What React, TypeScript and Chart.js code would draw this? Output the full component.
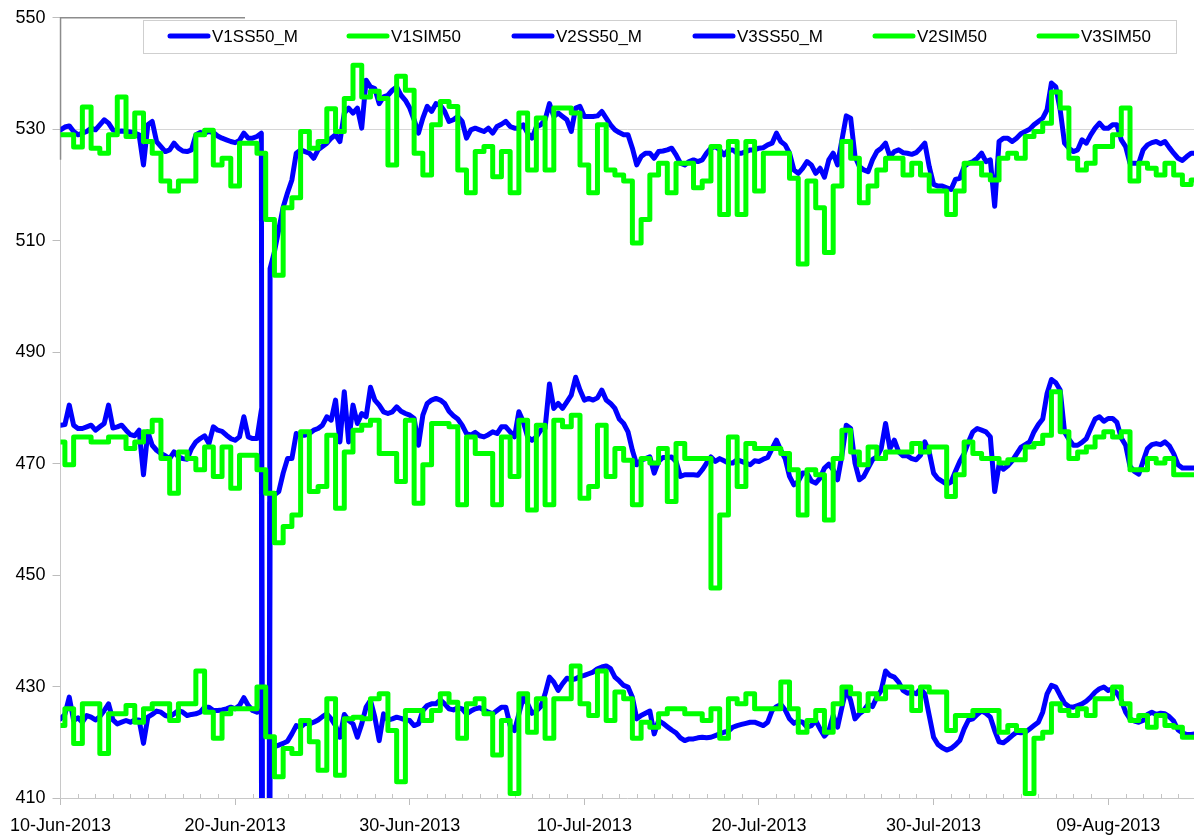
import React, { useEffect, useRef } from 'react';
import { Chart, registerables } from 'chart.js';

Chart.register(...registerables);

// ---------- data ----------
const seriesNames = ['V1SS50_M', 'V1SIM50', 'V2SS50_M', 'V3SS50_M', 'V2SIM50', 'V3SIM50'];
const xTickDays = [0, 10, 20, 30, 40, 50, 60];
const xTickLabels = ['10-Jun-2013', '20-Jun-2013', '30-Jun-2013', '10-Jul-2013', '20-Jul-2013', '30-Jul-2013', '09-Aug-2013'];
const yTickValues = [410, 430, 450, 470, 490, 510, 530, 550];
const measuredStepDays = 0.25; // SS50_M sampled every 6 h
const simStepDays = 0.5; // SIM50 sampled every 12 h

const v1SS = [
  529.9, 530.4, 530.6, 529.6, 529.0, 529.3, 529.6, 530.2,
  529.9, 530.8, 531.7, 531.1, 529.9, 529.6, 529.7, 529.6,
  529.5, 529.3, 529.0, 523.6, 530.8, 531.4, 527.8, 526.9,
  526.0, 526.3, 527.5, 526.6, 526.1, 526.0, 526.3, 529.0,
  529.4, 529.3, 529.6, 529.4, 528.8, 528.4, 528.1, 527.8,
  527.6, 528.0, 529.3, 528.4, 528.4, 528.7, 529.3, 0,
  505, 508, 512, 516, 518.6, 520.9, 525.7, 526.3,
  526.0, 525.7, 524.8, 526.3, 526.9, 527.5, 528.4, 529.0,
  527.8, 532.9, 533.8, 532.9, 533.8, 530.2, 538.8, 537.6,
  537.3, 534.6, 535.8, 536.1, 537.0, 537.6, 536.1, 535.2,
  533.8, 531.7, 529.3, 532.0, 534.1, 533.2, 534.6, 534.3,
  533.2, 531.4, 531.7, 532.3, 531.4, 528.4, 529.9, 530.2,
  529.9, 529.6, 530.2, 529.3, 530.5, 530.9, 531.4, 530.5,
  530.2, 530.2, 530.8, 529.3, 528.4, 530.4, 530.8, 531.7,
  534.6, 532.3, 532.9, 532.3, 531.7, 529.6, 533.8, 534.1,
  532.3, 532.3, 532.3, 532.4, 533.2, 532.0, 530.8, 529.9,
  529.4, 529.0, 529.0, 526.6, 523.6, 525.1, 525.7, 525.7,
  524.8, 526.0, 526.1, 526.3, 526.6, 525.4, 523.9, 523.6,
  524.2, 524.5, 524.2, 524.5, 525.7, 526.6, 526.9, 526.3,
  525.4, 526.3, 526.3, 525.7, 525.7, 526.0, 526.3, 526.3,
  526.6, 526.7, 527.2, 527.5, 529.3, 527.8, 527.2, 525.7,
  522.7, 522.1, 523.0, 524.2, 523.6, 522.1, 523.0, 521.4,
  524.5, 525.7, 523.6, 528.1, 532.4, 532.0, 525.1, 523.3,
  522.7, 522.4, 524.5, 526.0, 526.6, 527.5, 525.1, 526.0,
  526.3, 525.8, 525.7, 525.5, 525.8, 526.6, 527.5, 523.3,
  520.1, 519.8, 519.8, 519.5, 519.2, 521.0, 521.2, 523.3,
  523.9, 524.2, 524.8, 525.7, 524.2, 524.5, 516.2, 527.8,
  528.4, 528.4, 527.8, 528.4, 529.2, 529.6, 530.0, 530.8,
  531.4, 532.0, 533.5, 538.3, 537.6, 533.5, 527.5, 526.6,
  526.0, 526.3, 528.1, 527.5, 529.0, 530.2, 531.1, 530.2,
  530.2, 530.8, 530.8, 528.1, 526.9, 523.9, 523.9, 523.9,
  526.3, 527.2, 527.6, 527.8, 527.4, 527.8, 526.7, 525.7,
  524.8, 524.4, 525.1, 525.7, 525.7,
];

const v2SS = [
  476.9, 477.0, 480.5, 476.9, 476.3, 476.3, 476.6, 476.9,
  476.0, 476.6, 477.2, 480.5, 476.4, 476.6, 476.9, 476.0,
  475.2, 475.0, 476.0, 468.0, 475.7, 473.3, 472.4, 471.8,
  471.4, 470.9, 472.1, 471.2, 470.9, 470.8, 472.7, 473.9,
  474.5, 475.0, 473.6, 476.6, 476.0, 475.8, 475.1, 474.5,
  474.2, 474.8, 478.4, 474.8, 474.5, 474.5, 479.6, 0,
  463.0, 464.4, 465.0, 468.3, 470.9, 470.9, 475.4, 475.1,
  475.1, 475.4, 476.0, 476.3, 476.9, 478.4, 477.8, 481.4,
  473.9, 482.9, 473.9, 480.5, 477.2, 479.0, 478.4, 483.7,
  481.4, 480.5, 479.3, 479.0, 479.3, 480.2, 479.4, 479.0,
  478.7, 478.1, 473.3, 478.7, 480.8, 481.4, 481.7, 481.4,
  480.8, 479.4, 478.6, 478.0, 476.9, 475.4, 475.1, 475.6,
  475.0, 474.8, 475.2, 475.7, 475.4, 476.6, 476.6, 475.7,
  474.8, 479.3, 477.5, 474.8, 474.2, 474.8, 476.0, 476.3,
  484.3, 479.9, 480.8, 479.9, 481.1, 482.3, 485.5, 483.2,
  481.4, 481.7, 481.4, 481.8, 483.2, 481.4, 480.8, 479.9,
  478.0, 477.2, 475.7, 472.4, 469.8, 470.6, 470.9, 471.2,
  468.3, 470.4, 471.1, 471.1, 471.2, 470.4, 467.7, 468.0,
  468.0, 468.0, 467.9, 468.9, 470.1, 471.2, 470.4, 470.9,
  470.5, 470.1, 470.1, 470.7, 470.4, 470.1, 469.8, 470.5,
  470.4, 470.8, 471.1, 472.7, 474.2, 472.4, 470.9, 467.7,
  466.2, 466.8, 468.3, 468.3, 466.9, 466.5, 467.4, 469.2,
  469.9, 468.9, 467.1, 471.5, 476.9, 476.3, 470.1, 467.1,
  467.7, 469.2, 470.7, 471.2, 472.7, 477.2, 472.7, 474.2,
  472.1, 471.4, 471.4, 470.9, 470.7, 471.5, 473.9, 472.1,
  468.3, 467.3, 466.8, 466.3, 466.7, 468.6, 470.4, 471.8,
  473.9, 475.7, 476.3, 476.0, 475.7, 474.8, 465.0, 469.8,
  469.0, 469.6, 470.5, 471.7, 472.9, 473.4, 473.9, 475.7,
  477.0, 478.0, 482.6, 485.1, 484.5, 483.2, 475.7, 474.4,
  473.3, 473.3, 473.8, 474.5, 476.3, 478.0, 478.4, 477.6,
  478.1, 478.1, 477.4, 474.6, 473.3, 469.5, 468.6, 468.1,
  470.4, 472.7, 473.4, 473.6, 473.4, 473.9, 473.2, 471.8,
  469.8, 469.2, 469.2, 469.2, 469.2,
];

const v3SS = [
  424.2, 425.0, 428.1, 423.9, 424.4, 423.6, 424.8, 424.5,
  424.0, 424.6, 425.7, 426.9, 424.0, 423.3, 423.6, 423.9,
  423.6, 424.0, 424.0, 419.8, 424.5, 425.0, 425.6, 425.4,
  424.8, 424.6, 425.1, 425.7, 425.4, 424.8, 425.0, 425.1,
  425.4, 426.3, 426.3, 425.7, 425.7, 425.8, 426.0, 426.3,
  426.0, 426.6, 428.0, 426.6, 425.7, 425.4, 425.7, 0,
  418.9, 419.2, 419.5, 419.8, 420.2, 421.5, 423.0, 422.7,
  423.4, 423.3, 423.6, 424.0, 424.6, 425.1, 424.2, 423.0,
  420.9, 425.0, 423.9, 423.3, 420.9, 423.3, 426.3, 427.5,
  424.5, 420.3, 425.1, 424.0, 424.2, 424.5, 424.3, 424.0,
  423.9, 423.0, 423.3, 425.7, 426.6, 426.9, 426.9, 427.6,
  426.9, 426.0, 425.8, 426.2, 426.0, 425.1, 425.6, 426.0,
  426.2, 425.8, 425.4, 425.1, 425.7, 426.3, 426.3, 423.0,
  422.1, 425.1, 428.0, 426.9, 425.2, 425.6, 426.4, 428.7,
  431.7, 430.8, 429.3, 430.5, 431.5, 431.2, 431.4, 431.8,
  432.0, 432.3, 432.6, 433.2, 433.5, 433.7, 433.2, 431.7,
  431.0, 430.2, 429.9, 428.1, 424.2, 424.8, 425.2, 425.6,
  421.5, 423.9, 423.4, 422.8, 422.2, 421.7, 420.8, 420.3,
  420.6, 420.6, 420.8, 420.9, 420.8, 420.9, 421.2, 421.5,
  421.8, 422.0, 422.7, 423.0, 423.2, 423.4, 423.6, 423.6,
  423.3, 423.0, 423.6, 425.7, 426.4, 426.8, 425.8, 424.2,
  423.4, 423.8, 423.6, 422.7, 423.0, 423.9, 422.4, 421.1,
  422.0, 424.8, 422.7, 426.3, 429.6, 427.5, 424.2, 425.1,
  425.7, 426.8, 426.4, 428.1, 429.3, 432.8, 432.0, 431.7,
  430.8, 429.3, 428.8, 429.0, 428.7, 429.6, 428.7, 424.8,
  420.9, 419.6, 419.0, 418.6, 418.9, 419.5, 420.3, 422.4,
  424.0, 424.2, 425.0, 425.6, 425.2, 424.5, 422.1, 420.1,
  419.9, 420.5, 421.2, 421.8, 421.7, 421.8, 422.4, 423.0,
  423.6, 425.4, 428.7, 430.2, 429.9, 428.4, 427.0, 426.4,
  426.3, 426.6, 426.9, 427.4, 428.1, 429.0, 429.6, 429.9,
  429.3, 429.6, 428.8, 427.5, 425.4, 424.2, 423.8, 423.6,
  423.9, 425.0, 425.4, 425.0, 425.2, 425.1, 424.6, 423.8,
  422.2, 421.7, 421.4, 421.4, 421.5,
];

const v1SIM = [
  529, 529, 526.8, 534, 526.6, 525.7, 529, 535.8, 528.7, 532.9,
  527.8, 525.7, 520.7, 518.9, 520.7, 520.7, 529, 529.8, 523.6, 524.8,
  519.8, 527.5, 527.5, 525.7, 513.8, 503.8, 515.9, 517.7, 529.6, 526.6,
  527.8, 533.7, 529.6, 535.5, 541.5, 535.8, 536.8, 535.5, 523.6, 539.5,
  537, 525.7, 521.8, 530.8, 535, 534.1, 522.7, 518.6, 526, 526.9,
  521.5, 526, 518.6, 532.9, 522.7, 532, 522.7, 533.8, 533.8, 532.9,
  523.6, 518.6, 530.8, 522.7, 521.8, 520.7, 509.6, 513.8, 521.8, 523.9,
  518.6, 523.9, 523.9, 519.5, 520.7, 526.9, 514.7, 527.8, 514.7, 527.8,
  518.9, 525.7, 525.7, 525.7, 521.2, 505.8, 520.7, 515.9, 507.9, 519.8,
  527.8, 524.8, 516.8, 519.8, 522.7, 524.8, 524.8, 521.8, 523.9, 521.8,
  518.9, 518.9, 514.7, 518.9, 523.9, 523.9, 521.8, 520.9, 524.8, 525.7,
  524.8, 528.7, 529.6, 531.1, 536.7, 533.8, 524.8, 522.7, 523.9, 526.9,
  526.9, 529, 533.8, 520.7, 523.9, 523, 521.8, 523.9, 521.8, 520.1,
  520.9,
];

const v2SIM = [
  473.9, 469.8, 474.8, 474.8, 473.9, 473.9, 474.8, 474.8, 472.7, 473.9,
  475.7, 477.8, 470.9, 464.7, 472.1, 470.9, 468.9, 473.0, 467.7, 473.0,
  465.6, 471.5, 471.5, 468.9, 464.7, 455.8, 458.7, 460.8, 475.7, 465.0,
  465.9, 475.1, 462.0, 472.1, 476.0, 476.9, 477.8, 471.8, 471.8, 466.8,
  477.8, 462.9, 469.8, 477.2, 477.2, 476.6, 462.6, 474.8, 471.8, 471.8,
  462.6, 474.8, 467.7, 477.8, 461.7, 476.9, 462.6, 477.8, 476.6, 478.7,
  463.8, 465.9, 476.9, 467.7, 472.7, 470.6, 462.6, 470.9, 470.1, 472.7,
  463.2, 473.6, 470.9, 470.9, 470.9, 447.7, 460.8, 474.8, 465.9, 473.6,
  472.7, 472.7, 472.7, 471.8, 468.9, 460.8, 468.9, 468.0, 459.9, 470.9,
  476.0, 472.1, 469.8, 473.0, 470.9, 472.1, 472.1, 472.1, 473.6, 472.1,
  473.0, 473.0, 464.1, 468.0, 473.9, 471.8, 470.9, 470.9, 470.1, 470.7,
  470.7, 473.0, 473.6, 475.1, 482.9, 475.7, 470.9, 472.1, 473.0, 474.8,
  475.7, 474.8, 475.7, 468.9, 468.9, 470.9, 470.1, 470.9, 468.0, 468.0,
  468.0,
];

const v3SIM = [
  423.0, 426.0, 419.8, 426.9, 426.9, 418.0, 425.1, 425.1, 426.6, 423.6,
  426.0, 426.9, 426.9, 423.9, 426.9, 426.9, 432.8, 425.4, 420.7, 425.1,
  426.0, 426.0, 426.0, 429.9, 421.0, 413.8, 418.9, 418.0, 423.9, 420.1,
  415.0, 427.8, 414.1, 424.2, 424.5, 424.2, 427.8, 428.7, 422.1, 412.9,
  425.7, 425.7, 423.9, 425.7, 428.7, 427.2, 420.7, 426.9, 427.8, 425.1,
  417.7, 423.9, 410.8, 428.7, 421.8, 427.8, 420.7, 427.8, 427.8, 433.7,
  426.9, 424.8, 432.8, 423.9, 429.0, 427.8, 420.7, 423.6, 422.7, 425.1,
  426.0, 426.0, 425.1, 425.1, 423.9, 426.0, 420.7, 427.8, 426.9, 428.7,
  426.0, 426.0, 426.0, 430.8, 426.0, 421.8, 423.9, 425.7, 421.8, 426.9,
  429.9, 428.7, 425.7, 428.7, 427.8, 429.9, 429.9, 429.9, 425.7, 429.9,
  429.0, 429.0, 422.1, 424.8, 424.8, 425.7, 425.7, 425.7, 421.8, 423.0,
  422.1, 410.8, 420.7, 421.8, 426.9, 425.7, 424.8, 426.0, 424.8, 427.8,
  427.8, 429.9, 426.9, 423.9, 424.8, 422.7, 424.8, 423.0, 422.7, 420.9,
  420.9,
];

// ---------- styling / layout (not data) ----------
const BLUE = '#0000ff';
const GREEN = '#00ff00';
const FONT = '"Liberation Sans", Arial, sans-serif';
const X_MAX = (1194 - 58) / 17.5;
const legendItemX = [168, 347, 512, 693, 873, 1037];

const toPoints = (values: number[], step: number) =>
  values.map((y, i) => ({ x: i * step, y }));

const decorPlugin = {
  id: 'decor',
  beforeDatasetsDraw(chart: any) {
    const { ctx, chartArea, scales } = chart;
    const xs = scales.x;
    ctx.save();
    // daily minor ticks (inside)
    ctx.strokeStyle = '#c4c4c4';
    ctx.lineWidth = 1;
    ctx.beginPath();
    for (let d = 1; d < X_MAX; d++) {
      if (xTickDays.includes(d)) continue;
      const px = Math.round(xs.getPixelForValue(d)) + 0.5;
      ctx.moveTo(px, chartArea.bottom);
      ctx.lineTo(px, chartArea.bottom - 4);
    }
    ctx.stroke();
    // darker frame fragment at top-left
    ctx.strokeStyle = '#8c8c8c';
    ctx.lineWidth = 1.5;
    ctx.beginPath();
    ctx.moveTo(chartArea.left, chartArea.top + 142);
    ctx.lineTo(chartArea.left, chartArea.top);
    ctx.lineTo(245, chartArea.top);
    ctx.stroke();
    ctx.restore();
  },
  afterDraw(chart: any) {
    const { ctx } = chart;
    ctx.save();
    ctx.fillStyle = '#ffffff';
    ctx.fillRect(143.5, 20.5, 1033, 33);
    ctx.strokeStyle = '#cfcfcf';
    ctx.lineWidth = 1;
    ctx.strokeRect(143.5, 20.5, 1033, 33);
    const cy = 36;
    chart.data.datasets.forEach((ds: any, i: number) => {
      const x0 = legendItemX[i];
      ctx.strokeStyle = ds.borderColor;
      ctx.lineWidth = 5;
      ctx.lineCap = 'round';
      ctx.beginPath();
      ctx.moveTo(x0 + 2, cy);
      ctx.lineTo(x0 + 40, cy);
      ctx.stroke();
      ctx.fillStyle = '#000000';
      ctx.font = `17px ${FONT}`;
      ctx.textBaseline = 'middle';
      ctx.textAlign = 'left';
      ctx.fillText(ds.label, x0 + 44, cy + 1);
    });
    ctx.restore();
  },
};

export default function App() {
  const canvasRef = useRef<HTMLCanvasElement | null>(null);

  useEffect(() => {
    document.body.style.margin = '0';
    const canvas = canvasRef.current;
    if (!canvas) return;

    const lineBase = {
      pointRadius: 0,
      borderWidth: 5,
      borderJoinStyle: 'round' as const,
      borderCapStyle: 'round' as const,
      tension: 0,
      fill: false,
    };

    const chart = new Chart(canvas, {
      type: 'line',
      data: {
        datasets: [
          { ...lineBase, label: seriesNames[0], data: toPoints(v1SS, measuredStepDays), borderColor: BLUE, order: 1 },
          { ...lineBase, label: seriesNames[1], data: toPoints(v1SIM, simStepDays), borderColor: GREEN, stepped: 'middle', order: 0 },
          { ...lineBase, label: seriesNames[2], data: toPoints(v2SS, measuredStepDays), borderColor: BLUE, order: 1 },
          { ...lineBase, label: seriesNames[3], data: toPoints(v3SS, measuredStepDays), borderColor: BLUE, order: 1 },
          { ...lineBase, label: seriesNames[4], data: toPoints(v2SIM, simStepDays), borderColor: GREEN, stepped: 'middle', order: 0 },
          { ...lineBase, label: seriesNames[5], data: toPoints(v3SIM, simStepDays), borderColor: GREEN, stepped: 'middle', order: 0 },
        ] as any,
      },
      options: {
        animation: false,
        responsive: false,
        maintainAspectRatio: false,
        layout: { padding: { top: 15, right: 0, left: 0, bottom: 0 } },
        plugins: {
          legend: { display: false },
          tooltip: { enabled: false },
        },
        scales: {
          x: {
            type: 'linear',
            min: 0,
            max: X_MAX,
            afterBuildTicks: (scale: any) => {
              scale.ticks = xTickDays.map((v) => ({ value: v }));
            },
            afterFit: (scale: any) => {
              scale.height = 42;
            },
            ticks: {
              autoSkip: false,
              maxRotation: 0,
              padding: 10,
              color: '#000000',
              font: { family: FONT, size: 18 },
              callback: (value: any) => {
                const i = xTickDays.indexOf(Number(value));
                return i >= 0 ? xTickLabels[i] : '';
              },
            },
            grid: { drawOnChartArea: false, tickLength: 7, color: '#bdbdbd' },
            border: { color: '#c8c8c8', width: 1 },
          },
          y: {
            min: 410,
            max: 550,
            afterBuildTicks: (scale: any) => {
              scale.ticks = yTickValues.map((v) => ({ value: v }));
            },
            afterFit: (scale: any) => {
              scale.width = 58;
            },
            ticks: {
              padding: 7,
              color: '#000000',
              font: { family: FONT, size: 18 },
            },
            grid: {
              color: (c: any) => (c.tick && c.tick.value === 530 ? '#d6d6d6' : 'rgba(0,0,0,0)'),
              tickColor: '#bdbdbd',
              tickLength: 8,
            },
            border: { color: '#c8c8c8', width: 1 },
          },
        },
      } as any,
      plugins: [decorPlugin],
    });

    return () => {
      chart.destroy();
    };
  }, []);

  return <canvas ref={canvasRef} width={1194} height={840} style={{ display: 'block' }} />;
}
